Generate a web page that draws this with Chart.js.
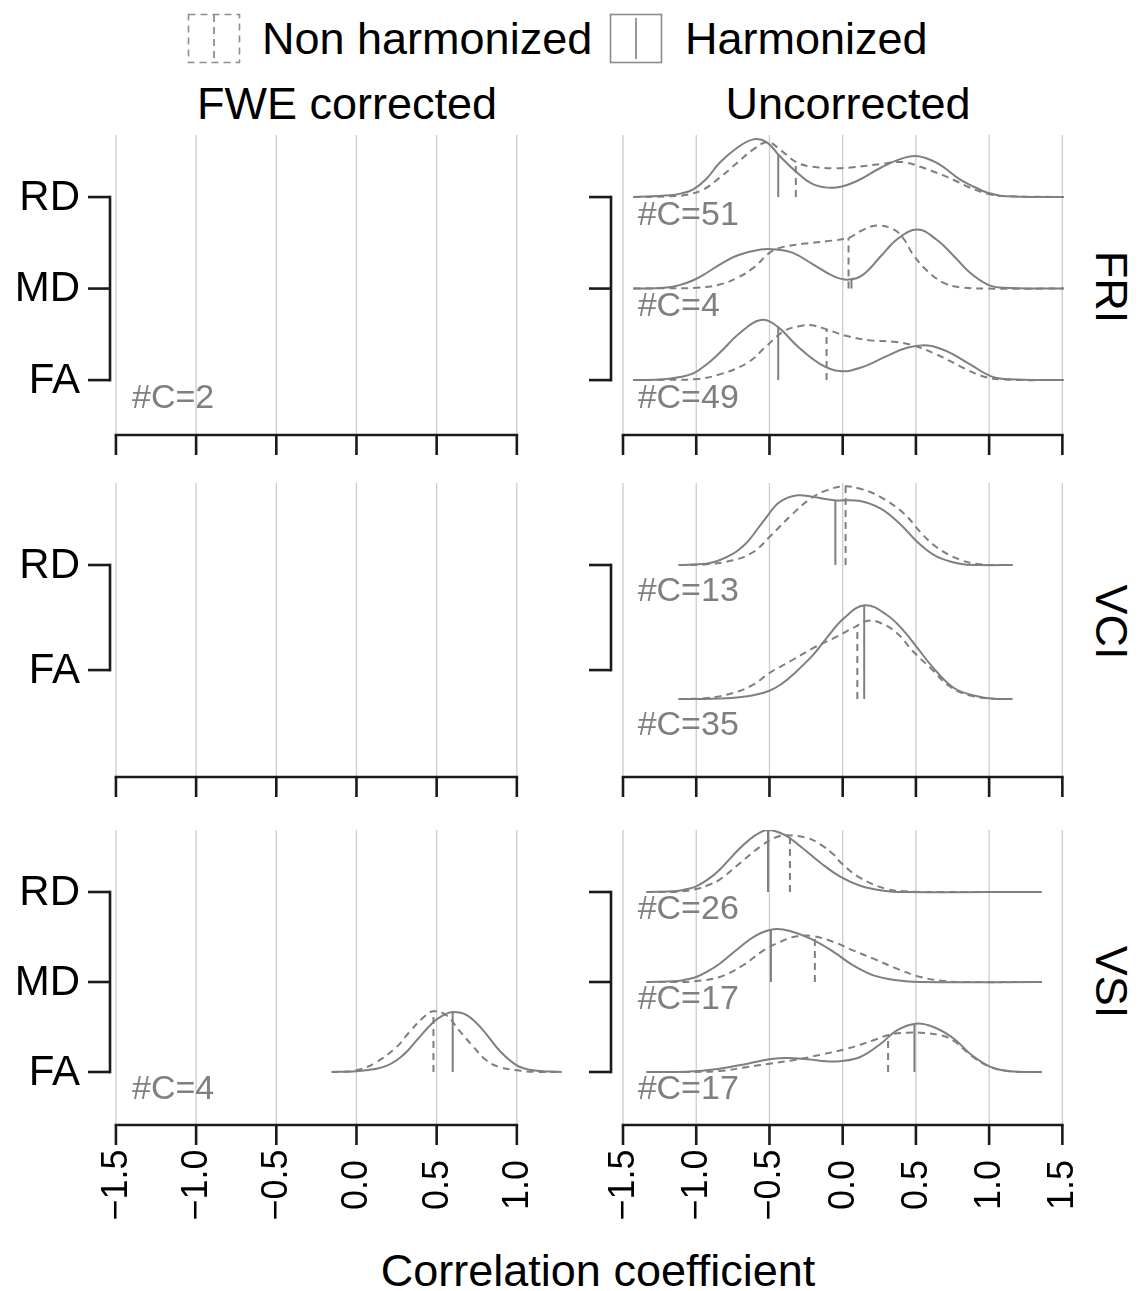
<!DOCTYPE html>
<html>
<head>
<meta charset="utf-8">
<script src="https://cdn.jsdelivr.net/npm/chart.js@4.4.1/dist/chart.umd.min.js"></script>
<style>
  html, body { margin: 0; padding: 0; background: #fff; }
  #fig { position: relative; width: 1145px; height: 1291px; overflow: hidden;
         font-family: "Liberation Sans", Arial, Helvetica, sans-serif; }
  #fig canvas { position: absolute; left: 0; top: 0; }
  #fig svg { position: absolute; left: 0; top: 0; }
  .t { position: absolute; white-space: nowrap; color: #000; font-size: 45px; line-height: 1; }
  .c { transform: translate(-50%, -50%); }
  .l { transform: translate(0, -50%); }
  .strip { transform: translate(-50%, -50%) rotate(90deg); }
</style>
</head>
<body>
<div id="fig">
  <svg width="1145" height="80">
    <rect x="188.5" y="14.5" width="51" height="48" fill="none" stroke="#8c8c8c" stroke-width="1.6" stroke-dasharray="7,5"/>
    <line x1="214" y1="15" x2="214" y2="62" stroke="#7f7f7f" stroke-width="1.6" stroke-dasharray="7,5"/>
    <rect x="610.5" y="14.5" width="51" height="48" fill="none" stroke="#8c8c8c" stroke-width="1.6"/>
    <line x1="636" y1="18" x2="636" y2="59" stroke="#7f7f7f" stroke-width="1.6"/>
  </svg>
  <div class="t l" style="left:262px; top:38px;">Non harmonized</div>
  <div class="t l" style="left:685px; top:38px;">Harmonized</div>
  <div class="t c" style="left:347px; top:103px;">FWE corrected</div>
  <div class="t c" style="left:848px; top:103px;">Uncorrected</div>
  <div class="t strip" style="left:1111px; top:287px;">FRI</div>
  <div class="t strip" style="left:1111px; top:622px;">VCI</div>
  <div class="t strip" style="left:1111px; top:982px;">VSI</div>
  <div class="t c" style="left:598px; top:1270px;">Correlation coefficient</div>
  <canvas id="p-fri-fwe" width="1145" height="1291"></canvas>
  <canvas id="p-fri-unc" width="1145" height="1291"></canvas>
  <canvas id="p-vci-fwe" width="1145" height="1291"></canvas>
  <canvas id="p-vci-unc" width="1145" height="1291"></canvas>
  <canvas id="p-vsi-fwe" width="1145" height="1291"></canvas>
  <canvas id="p-vsi-unc" width="1145" height="1291"></canvas>
</div>

<script>
// ---------- axis breaks and labels ----------
const xBreaksFwe = [-1.5, -1.0, -0.5, 0.0, 0.5, 1.0];
const xBreaksUnc = [-1.5, -1.0, -0.5, 0.0, 0.5, 1.0, 1.5];
const xLabelsFwe = ['\u22121.5', '\u22121.0', '\u22120.5', '0.0', '0.5', '1.0'];
const xLabelsUnc = ['\u22121.5', '\u22121.0', '\u22120.5', '0.0', '0.5', '1.0', '1.5'];
const measures3 = ['FA', 'MD', 'RD'];
const measures2 = ['FA', 'RD'];

// ---------- density curves (x = correlation, h = ridge height) ----------
// FRI, uncorrected
const friRD_xH = [-1.43,-1.18,-1.1,-1.02,-0.93,-0.84,-0.72,-0.61,-0.52,-0.43,-0.31,-0.2,-0.06,0.07,0.26,0.37,0.5,0.64,0.8,0.9,0.99,1.12,1.51];
const friRD_hH = [0,0.019,0.04,0.084,0.2,0.375,0.539,0.63,0.601,0.448,0.266,0.139,0.102,0.156,0.32,0.401,0.448,0.375,0.193,0.11,0.047,0.008,0];
const friRD_xN = [-1.43,-1.18,-1.065,-0.95,-0.84,-0.72,-0.61,-0.51,-0.43,-0.31,-0.2,-0.06,0.07,0.26,0.37,0.44,0.53,0.64,0.76,0.87,0.99,1.1,1.51];
const friRD_hN = [0,0.008,0.025,0.084,0.211,0.375,0.521,0.601,0.521,0.375,0.331,0.314,0.325,0.361,0.383,0.375,0.331,0.266,0.186,0.102,0.036,0.011,0];

const friMD_xH = [-1.43,-1.22,-1.12,-1.02,-0.93,-0.84,-0.72,-0.56,-0.45,-0.34,-0.2,-0.06,0.04,0.14,0.26,0.37,0.51,0.64,0.76,0.87,0.99,1.1,1.51];
const friMD_hH = [0,0.008,0.035,0.091,0.17,0.262,0.361,0.426,0.426,0.39,0.262,0.134,0.098,0.153,0.353,0.536,0.645,0.536,0.353,0.172,0.044,0.008,0];
const friMD_xN = [-1.43,-1.22,-1.0,-0.84,-0.72,-0.61,-0.5,-0.43,-0.27,-0.11,0.04,0.12,0.23,0.35,0.42,0.48,0.58,0.69,0.8,0.99,1.51];
const friMD_hN = [0,0.003,0.008,0.044,0.117,0.226,0.39,0.445,0.489,0.517,0.554,0.626,0.689,0.645,0.536,0.372,0.189,0.062,0.014,0,0];

const friFA_xH = [-1.43,-1.22,-1.12,-1.02,-0.93,-0.84,-0.7,-0.56,-0.45,-0.31,-0.15,-0.02,0.12,0.3,0.44,0.58,0.71,0.87,1.01,1.14,1.51];
const friFA_hH = [0,0.008,0.03,0.073,0.17,0.298,0.517,0.656,0.59,0.372,0.172,0.098,0.134,0.262,0.353,0.379,0.317,0.172,0.044,0.008,0];
const friFA_xN = [-1.43,-1.22,-1.0,-0.84,-0.65,-0.52,-0.4,-0.29,-0.21,-0.11,0.03,0.19,0.35,0.48,0.64,0.8,0.94,1.08,1.51];
const friFA_hN = [0,0.003,0.011,0.062,0.189,0.372,0.536,0.59,0.598,0.554,0.481,0.434,0.419,0.379,0.281,0.153,0.051,0.008,0];

// VCI, uncorrected
const vciRD_xH = [-1.12,-0.93,-0.86,-0.79,-0.72,-0.65,-0.52,-0.43,-0.31,-0.2,-0.06,0.12,0.26,0.39,0.51,0.64,0.8,0.94,1.16];
const vciRD_hH = [0,0.01,0.028,0.06,0.105,0.172,0.358,0.47,0.52,0.507,0.483,0.478,0.42,0.308,0.172,0.065,0.01,0,0];
const vciRD_xN = [-1.12,-0.93,-0.75,-0.61,-0.5,-0.34,-0.22,-0.11,0.01,0.12,0.26,0.42,0.53,0.64,0.8,0.94,1.16];
const vciRD_hN = [0,0.005,0.035,0.097,0.209,0.383,0.495,0.557,0.587,0.569,0.507,0.383,0.246,0.134,0.04,0.005,0];

const vciFA_xH = [-1.12,-0.95,-0.79,-0.61,-0.5,-0.42,-0.34,-0.2,-0.11,0.01,0.15,0.3,0.42,0.51,0.62,0.76,0.92,1.03,1.16];
const vciFA_hH = [0,0.001,0.005,0.028,0.062,0.11,0.181,0.331,0.455,0.604,0.699,0.629,0.505,0.381,0.231,0.082,0.02,0.002,0];
const vciFA_xN = [-1.12,-0.93,-0.75,-0.61,-0.5,-0.34,-0.2,-0.06,0.07,0.17,0.26,0.37,0.48,0.6,0.73,0.87,1.03,1.16];
const vciFA_hN = [0,0.007,0.045,0.107,0.194,0.293,0.381,0.455,0.53,0.584,0.567,0.493,0.356,0.231,0.095,0.025,0.002,0];

// VSI, uncorrected
const vsiRD_xH = [-1.34,-1.13,-1.07,-1.0,-0.92,-0.84,-0.7,-0.59,-0.51,-0.4,-0.29,-0.15,-0.02,0.12,0.28,0.42,1.36];
const vsiRD_hH = [0,0.011,0.03,0.063,0.14,0.248,0.489,0.637,0.69,0.637,0.508,0.322,0.174,0.07,0.014,0,0];
const vsiRD_xN = [-1.34,-1.13,-1.0,-0.92,-0.84,-0.7,-0.56,-0.45,-0.38,-0.24,-0.15,-0.06,-0.01,0.12,0.3,0.42,0.53,1.36];
const vsiRD_hN = [0,0.003,0.033,0.075,0.137,0.322,0.508,0.611,0.63,0.6,0.526,0.414,0.322,0.156,0.033,0.008,0,0];

const vsiMD_xH = [-1.34,-1.13,-1.07,-1.0,-0.92,-0.84,-0.7,-0.59,-0.47,-0.36,-0.22,-0.06,0.07,0.21,0.37,0.53,1.36];
const vsiMD_hH = [0,0.011,0.028,0.056,0.12,0.203,0.389,0.519,0.586,0.567,0.481,0.333,0.186,0.074,0.019,0,0];
const vsiMD_xN = [-1.34,-1.13,-1.0,-0.84,-0.68,-0.54,-0.43,-0.31,-0.2,-0.06,0.07,0.21,0.37,0.53,0.69,0.83,1.36];
const vsiMD_hN = [0,0,0.011,0.056,0.186,0.352,0.444,0.508,0.508,0.444,0.352,0.259,0.148,0.056,0.011,0,0];

const vsiFA_xH = [-1.34,-1.07,-0.84,-0.65,-0.5,-0.38,-0.24,-0.11,-0.02,0.12,0.26,0.37,0.5,0.62,0.76,0.87,1.01,1.14,1.36];
const vsiFA_hH = [0,0.003,0.037,0.092,0.141,0.156,0.141,0.119,0.119,0.167,0.314,0.463,0.537,0.5,0.37,0.203,0.056,0.008,0];
const vsiFA_xN = [-1.34,-1.07,-0.84,-0.65,-0.5,-0.34,-0.15,0.03,0.21,0.32,0.44,0.53,0.67,0.76,0.89,1.01,1.14,1.36];
const vsiFA_hN = [0,0,0.011,0.056,0.092,0.13,0.192,0.259,0.352,0.414,0.437,0.437,0.408,0.344,0.167,0.056,0.008,0];

// VSI, FWE corrected
const vsiFweFA_xH = [-0.155,0.0,0.125,0.19,0.25,0.31,0.375,0.48,0.54,0.6,0.69,0.79,0.89,1.0,1.1,1.28];
const vsiFweFA_hH = [0,0.008,0.037,0.07,0.13,0.22,0.352,0.556,0.63,0.667,0.63,0.463,0.241,0.074,0.019,0];
const vsiFweFA_xN = [-0.155,0.0,0.125,0.25,0.33,0.42,0.48,0.56,0.64,0.73,0.81,0.89,1.0,1.1,1.28];
const vsiFweFA_hN = [0,0.019,0.111,0.278,0.444,0.611,0.674,0.63,0.463,0.278,0.13,0.056,0.019,0.003,0];

// ---------- medians (harmonized / non harmonized), ordered as the measures ----------
const friMedH = [-0.44, 0.06, -0.44];
const friMedN = [-0.11, 0.04, -0.32];
const vciMedH = [0.147, -0.05];
const vciMedN = [0.10, 0.02];
const vsiMedH = [0.49, -0.49, -0.51];
const vsiMedN = [0.31, -0.19, -0.36];
const vsiFweMedH = [0.60];
const vsiFweMedN = [0.48];

// ---------- cluster counts ----------
const friCountUnc = [49, 4, 51];
const friCountFwe = [2];
const vciCountUnc = [35, 13];
const vsiCountUnc = [17, 17, 26];
const vsiFweCount = [4];

// ---------- layout of the facet grid ----------
const FIG_W = 1145, FIG_H = 1291;
const COLS = [
  { left: 110, right: 589, xmin: -1.537, xmax: 1.45, breaks: xBreaksFwe, labels: xLabelsFwe, names: true },
  { left: 611, right: 1077, xmin: -1.582, xmax: 1.6, breaks: xBreaksUnc, labels: xLabelsUnc, names: false }
];
const ROWS = [
  { top: 135, bottom: 435, ymin: 0.40, ymax: 3.678, ticks: [1, 2, 3], tickNames: measures3, xLabels: false },
  { top: 483, bottom: 777, ymin: 0.418, ymax: 2.612, ticks: [1.216, 2], tickNames: measures2, xLabels: false },
  { top: 830, bottom: 1125, ymin: 0.411, ymax: 3.689, ticks: [1, 2, 3], tickNames: measures3, xLabels: true }
];

const CURVE = '#7f7f7f';
const DASH = [7, 5];
const FONT = '"Liberation Sans", Arial, Helvetica, sans-serif';

function heightAt(xs, hs, v) {
  for (let i = 1; i < xs.length; i++) {
    if (v <= xs[i]) {
      const t = (v - xs[i - 1]) / (xs[i] - xs[i - 1]);
      return hs[i - 1] + t * (hs[i] - hs[i - 1]);
    }
  }
  return hs[hs.length - 1];
}

function ridge(pos, xH, hH, xN, hN, mH, mN) {
  return { pos, xH, hH, xN, hN, mH, mN };
}

const panels = [
  { id: 'p-fri-fwe', col: 0, row: 0, ridges: [], counts: [{ pos: 1, n: friCountFwe[0] }] },
  { id: 'p-fri-unc', col: 1, row: 0,
    ridges: [
      ridge(1, friFA_xH, friFA_hH, friFA_xN, friFA_hN, friMedH[0], friMedN[0]),
      ridge(2, friMD_xH, friMD_hH, friMD_xN, friMD_hN, friMedH[1], friMedN[1]),
      ridge(3, friRD_xH, friRD_hH, friRD_xN, friRD_hN, friMedH[2], friMedN[2])
    ],
    counts: [{ pos: 1, n: friCountUnc[0] }, { pos: 2, n: friCountUnc[1] }, { pos: 3, n: friCountUnc[2] }] },
  { id: 'p-vci-fwe', col: 0, row: 1, ridges: [], counts: [] },
  { id: 'p-vci-unc', col: 1, row: 1,
    ridges: [
      ridge(1, vciFA_xH, vciFA_hH, vciFA_xN, vciFA_hN, vciMedH[0], vciMedN[0]),
      ridge(2, vciRD_xH, vciRD_hH, vciRD_xN, vciRD_hN, vciMedH[1], vciMedN[1])
    ],
    counts: [{ pos: 1, n: vciCountUnc[0] }, { pos: 2, n: vciCountUnc[1] }] },
  { id: 'p-vsi-fwe', col: 0, row: 2,
    ridges: [ ridge(1, vsiFweFA_xH, vsiFweFA_hH, vsiFweFA_xN, vsiFweFA_hN, vsiFweMedH[0], vsiFweMedN[0]) ],
    counts: [{ pos: 1, n: vsiFweCount[0] }] },
  { id: 'p-vsi-unc', col: 1, row: 2,
    ridges: [
      ridge(1, vsiFA_xH, vsiFA_hH, vsiFA_xN, vsiFA_hN, vsiMedH[0], vsiMedN[0]),
      ridge(2, vsiMD_xH, vsiMD_hH, vsiMD_xN, vsiMD_hN, vsiMedH[1], vsiMedN[1]),
      ridge(3, vsiRD_xH, vsiRD_hH, vsiRD_xN, vsiRD_hN, vsiMedH[2], vsiMedN[2])
    ],
    counts: [{ pos: 1, n: vsiCountUnc[0] }, { pos: 2, n: vsiCountUnc[1] }, { pos: 3, n: vsiCountUnc[2] }] }
];

const panelInfo = {};

// grid lines, bottom axis, bracket axis, measure names and cluster counts
const facetPlugin = {
  id: 'facet',
  beforeDatasetsDraw(chart) {
    const info = panelInfo[chart.canvas.id];
    const { ctx, chartArea: a, scales: { x } } = chart;
    ctx.save();
    ctx.strokeStyle = '#cccccc';
    ctx.lineWidth = 1.3;
    info.col.breaks.forEach(b => {
      const px = x.getPixelForValue(b);
      ctx.beginPath(); ctx.moveTo(px, a.top); ctx.lineTo(px, a.bottom); ctx.stroke();
    });
    ctx.restore();
  },
  afterDraw(chart) {
    const info = panelInfo[chart.canvas.id];
    const { col, row, panel } = info;
    const { ctx, chartArea: a, scales: { x, y } } = chart;
    ctx.save();
    ctx.strokeStyle = '#1a1a1a';
    ctx.lineWidth = 2.6;
    ctx.lineCap = 'butt';
    // bottom axis
    const x0 = x.getPixelForValue(col.breaks[0]);
    const x1 = x.getPixelForValue(col.breaks[col.breaks.length - 1]);
    ctx.beginPath(); ctx.moveTo(x0 - 1.3, a.bottom); ctx.lineTo(x1 + 1.3, a.bottom); ctx.stroke();
    col.breaks.forEach(b => {
      const px = x.getPixelForValue(b);
      ctx.beginPath(); ctx.moveTo(px, a.bottom); ctx.lineTo(px, a.bottom + 20); ctx.stroke();
    });
    // bracket axis
    const yTop = y.getPixelForValue(row.ticks[row.ticks.length - 1]);
    const yBot = y.getPixelForValue(row.ticks[0]);
    ctx.beginPath(); ctx.moveTo(a.left, yTop - 1.3); ctx.lineTo(a.left, yBot + 1.3); ctx.stroke();
    row.ticks.forEach(t => {
      const py = y.getPixelForValue(t);
      ctx.beginPath(); ctx.moveTo(a.left - 22, py); ctx.lineTo(a.left, py); ctx.stroke();
    });
    // measure names
    ctx.fillStyle = '#000';
    if (col.names) {
      ctx.font = '42px ' + FONT;
      ctx.textAlign = 'right';
      ctx.textBaseline = 'middle';
      row.ticks.forEach((t, i) => {
        ctx.fillText(row.tickNames[i], a.left - 30, y.getPixelForValue(t) + 1);
      });
    }
    // x tick labels on the bottom row
    if (row.xLabels) {
      ctx.font = '36px ' + FONT;
      ctx.textAlign = 'center';
      ctx.textBaseline = 'middle';
      col.breaks.forEach((b, i) => {
        ctx.save();
        ctx.translate(x.getPixelForValue(b) + 1, a.bottom + 60);
        ctx.rotate(-Math.PI / 2);
        ctx.fillText(col.labels[i], 0, 0);
        ctx.restore();
      });
    }
    // cluster counts
    ctx.fillStyle = '#7f7f7f';
    ctx.font = '34px ' + FONT;
    ctx.textAlign = 'left';
    ctx.textBaseline = 'middle';
    panel.counts.forEach(c => {
      ctx.fillText('#C=' + c.n, x.getPixelForValue(-1.4), y.getPixelForValue(c.pos - 0.2));
    });
    ctx.restore();
  }
};

panels.forEach(p => {
  const col = COLS[p.col], row = ROWS[p.row];
  panelInfo[p.id] = { col, row, panel: p };
  const datasets = [];
  p.ridges.forEach(r => {
    datasets.push({
      data: r.xN.map((v, i) => ({ x: v, y: r.pos + r.hN[i] })),
      borderColor: CURVE, borderWidth: 2, borderDash: DASH,
      tension: 0.4, pointRadius: 0, fill: false
    });
    datasets.push({
      data: r.xH.map((v, i) => ({ x: v, y: r.pos + r.hH[i] })),
      borderColor: CURVE, borderWidth: 2,
      tension: 0.4, pointRadius: 0, fill: false
    });
    datasets.push({
      data: [{ x: r.mN, y: r.pos }, { x: r.mN, y: r.pos + heightAt(r.xN, r.hN, r.mN) }],
      borderColor: CURVE, borderWidth: 2, borderDash: DASH, pointRadius: 0, tension: 0, fill: false
    });
    datasets.push({
      data: [{ x: r.mH, y: r.pos }, { x: r.mH, y: r.pos + heightAt(r.xH, r.hH, r.mH) }],
      borderColor: CURVE, borderWidth: 2, pointRadius: 0, tension: 0, fill: false
    });
  });
  new Chart(document.getElementById(p.id), {
    type: 'line',
    data: { datasets },
    options: {
      responsive: false,
      animation: false,
      devicePixelRatio: 1,
      events: [],
      layout: { padding: { left: col.left, right: FIG_W - col.right, top: row.top, bottom: FIG_H - row.bottom } },
      scales: {
        x: { type: 'linear', min: col.xmin, max: col.xmax, display: false },
        y: { type: 'linear', min: row.ymin, max: row.ymax, display: false }
      },
      plugins: { legend: { display: false }, tooltip: { enabled: false } }
    },
    plugins: [facetPlugin]
  });
});
</script>
</body>
</html>
